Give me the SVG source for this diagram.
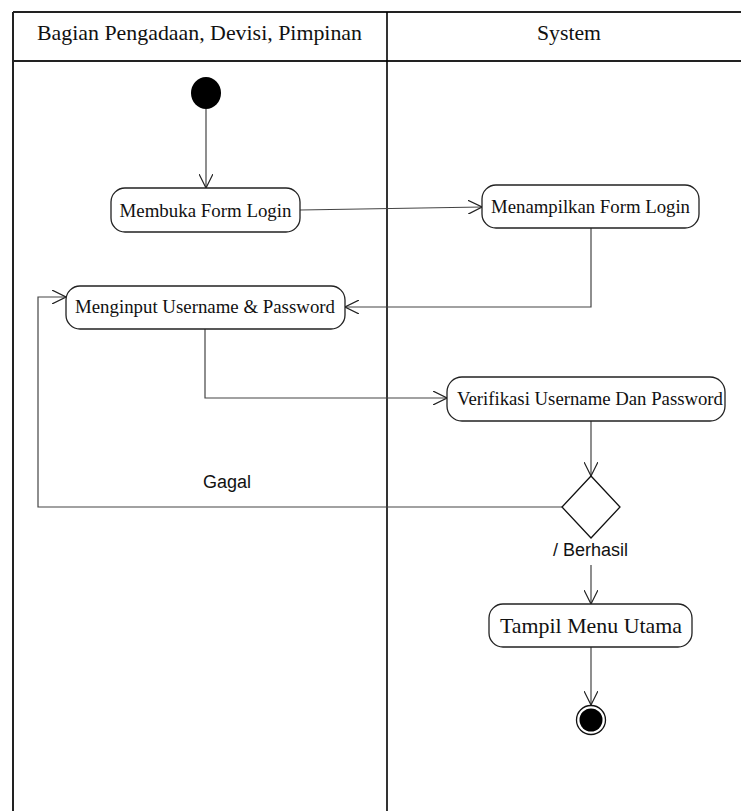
<svg xmlns="http://www.w3.org/2000/svg" width="741" height="811" viewBox="0 0 741 811">
<style>
.frame{stroke:#222;stroke-width:2;fill:none}
.div{stroke:#000;stroke-width:1.6;fill:none}
.act{fill:#fff;stroke:#222;stroke-width:1.3}
.t{font-family:"Liberation Serif","Times New Roman",serif;fill:#111;text-anchor:middle}
.s{font-family:"Liberation Sans",Arial,sans-serif;fill:#111;font-size:18px}
.c{stroke:#444;stroke-width:1.2;fill:none}
</style>
<defs>
<marker id="arr" viewBox="0 0 14 14" refX="14" refY="7" markerWidth="14" markerHeight="14" markerUnits="userSpaceOnUse" orient="auto">
<path d="M0,0 L14,7 L0,14" fill="none" stroke="#222" stroke-width="1.2"/>
</marker>
</defs>
<rect width="741" height="811" fill="#fff"/>
<g id="swimlanes">
<line class="frame" x1="13" y1="12" x2="741" y2="12"/>
<line class="frame" x1="13" y1="61" x2="741" y2="61"/>
<line class="frame" x1="13" y1="12" x2="13" y2="811"/>
<line class="div" x1="387" y1="12" x2="387" y2="811"/>
<text class="t" x="199.5" y="40" font-size="22" textLength="325" lengthAdjust="spacingAndGlyphs">Bagian Pengadaan, Devisi, Pimpinan</text>
<text class="t" x="569" y="40" font-size="22" textLength="64" lengthAdjust="spacingAndGlyphs">System</text>
</g>
<g id="connectors">
<line class="c" x1="206" y1="109" x2="206" y2="188" marker-end="url(#arr)"/>
<line class="c" x1="300" y1="210" x2="482" y2="207" marker-end="url(#arr)"/>
<polyline class="c" points="591,228 591,307 345,307" marker-end="url(#arr)"/>
<polyline class="c" points="205,329 205,398 447,398" marker-end="url(#arr)"/>
<line class="c" x1="591" y1="421" x2="591" y2="476" marker-end="url(#arr)"/>
<polyline class="c" points="562,507 38,507 38,297 66,297" marker-end="url(#arr)"/>
<line class="c" x1="591" y1="565" x2="591" y2="604" marker-end="url(#arr)"/>
<line class="c" x1="591" y1="647" x2="591" y2="705" marker-end="url(#arr)"/>
<text class="s" x="203" y="488">Gagal</text>
<text class="s" x="553" y="556">/ Berhasil</text>
</g>
<g id="start">
<ellipse cx="206" cy="93" rx="15" ry="16" fill="#000"/>
</g>
<g id="membuka">
<rect class="act" x="111" y="188" width="189" height="44" rx="14"/>
<text class="t" x="205.5" y="217" font-size="19" textLength="172" lengthAdjust="spacingAndGlyphs">Membuka Form Login</text>
</g>
<g id="menampilkan">
<rect class="act" x="482" y="185" width="217" height="43" rx="14"/>
<text class="t" x="590.5" y="213" font-size="19" textLength="199" lengthAdjust="spacingAndGlyphs">Menampilkan Form Login</text>
</g>
<g id="menginput">
<rect class="act" x="66" y="286" width="279" height="43" rx="14"/>
<text class="t" x="205" y="313" font-size="19" textLength="260" lengthAdjust="spacingAndGlyphs">Menginput Username &amp; Password</text>
</g>
<g id="verifikasi">
<rect class="act" x="447" y="377" width="278" height="44" rx="15"/>
<text class="t" x="590" y="405" font-size="19" textLength="266" lengthAdjust="spacingAndGlyphs">Verifikasi Username Dan Password</text>
</g>
<g id="decision">
<polygon points="591,476 620,507 591,538 562,507" fill="#fff" stroke="#111" stroke-width="1.3"/>
</g>
<g id="tampil">
<rect class="act" x="489" y="604" width="203" height="43" rx="14"/>
<text class="t" x="591" y="633" font-size="22" textLength="182" lengthAdjust="spacingAndGlyphs">Tampil Menu Utama</text>
</g>
<g id="end">
<circle cx="591" cy="720" r="14.5" fill="#fff" stroke="#111" stroke-width="1.3"/>
<circle cx="591" cy="720" r="11.5" fill="#000"/>
</g>
</svg>
